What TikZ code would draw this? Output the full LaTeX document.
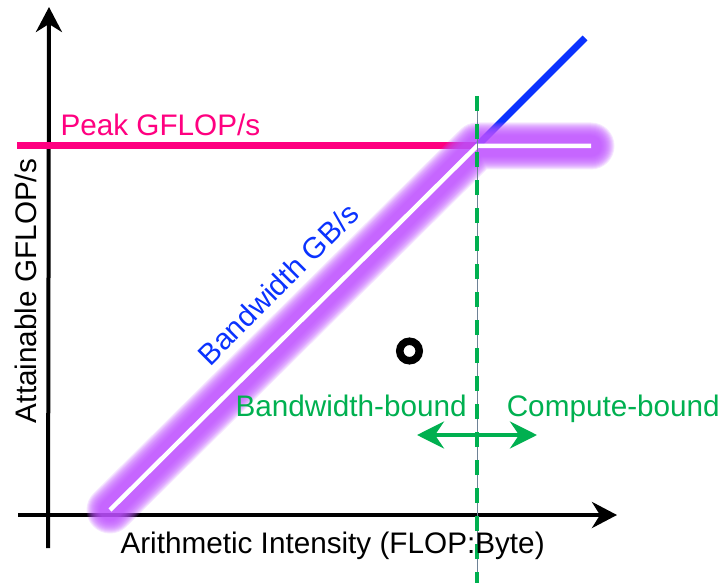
\documentclass[tikz,border=0pt]{standalone}
\usepackage{fontspec}
\setmainfont{Liberation Sans}
\usetikzlibrary{arrows.meta}

\definecolor{peakpink}{RGB}{255,0,128}
\definecolor{bwblue}{RGB}{10,50,255}
\definecolor{boundgreen}{RGB}{0,176,80}
\definecolor{glowviolet}{RGB}{190,82,255}
\definecolor{guidegray}{RGB}{110,130,150}

\begin{document}
\begin{tikzpicture}[x=1pt,y=-1pt,
  lbl/.style={inner sep=0pt, outer sep=0pt, font=\fontsize{29.7}{36}\selectfont},
  axisline/.style={line width=4pt, -{Stealth[length=25pt,width=26pt,inset=8pt]}},
  glowlayer/.style={glowviolet, line cap=round, line join=round},
  roofline/.style={white, line width=4.5pt, line join=miter},
  ridgeguide/.style={boundgreen, line width=4.3pt, dash pattern=on 15pt off 13pt},
  regionarrow/.style={boundgreen, line width=4pt,
    {Stealth[length=27pt,width=27pt,inset=9pt]}-{Stealth[length=27pt,width=27pt,inset=9pt]}}]
\useasboundingbox (0,0) rectangle (723,583);

% key points of the roofline
\coordinate (ybot) at (48,548);
\coordinate (ytop) at (49,7);
\coordinate (xleft) at (18,515);
\coordinate (xright) at (617,515);
\coordinate (peakstart) at (17,146);
\coordinate (ridge) at (477,146);
\coordinate (peakend) at (591,146);
\coordinate (bwstart) at (110,510);
\coordinate (bwend) at (585,38);
\coordinate (guidetop) at (477.3,96);
\coordinate (guidebot) at (477.3,583);
\coordinate (arrleft) at (417,435);
\coordinate (arrright) at (537,435);
\coordinate (kernel) at (409.5,351);

% axes
\draw[axisline] (ybot) -- (ytop);
\draw[axisline] (xleft) -- (xright);

% compute ceiling and extended bandwidth slope
\draw[peakpink, line width=7pt] (peakstart) -- (ridge);
\draw[bwblue, line width=7pt] (ridge) -- (bwend);

% highlighted roofline: stacked translucent strokes give a soft glow
\foreach \w in {47,45,...,21}
  \draw[glowlayer, line width=\w pt, opacity=0.14] (bwstart) -- (ridge) -- (peakend);
\draw[roofline] (bwstart) -- (ridge) -- (peakend);

% ridge point guide
\draw[guidegray, line width=1pt] (guidetop) -- (guidebot);
\draw[ridgeguide] (guidetop) -- (guidebot);

% sample kernel
\draw[black, line width=7.5pt] (kernel) circle[radius=9.75pt];

% region arrow
\draw[regionarrow] (arrleft) -- (arrright);

% labels
\node[lbl, text=peakpink, anchor=base west] (peaklbl) at (60.5,135.7) {Peak GFLOP/s};
\node[lbl, text=bwblue, anchor=base west, rotate=45] (bwlbl) at (210,367) {Bandwidth GB/s};
\node[lbl, text=boundgreen, anchor=base west] (bwbound) at (235.5,416.7) {Bandwidth-bound};
\node[lbl, text=boundgreen, anchor=base west] (cpbound) at (506.8,416.7) {Compute-bound};
\node[lbl, anchor=base west] (xlbl) at (120.5,553.3) {Arithmetic Intensity (FLOP:Byte)};
\node[lbl, anchor=base west, rotate=90] (ylbl) at (36.3,423) {Attainable GFLOP/s};
\end{tikzpicture}
\end{document}
